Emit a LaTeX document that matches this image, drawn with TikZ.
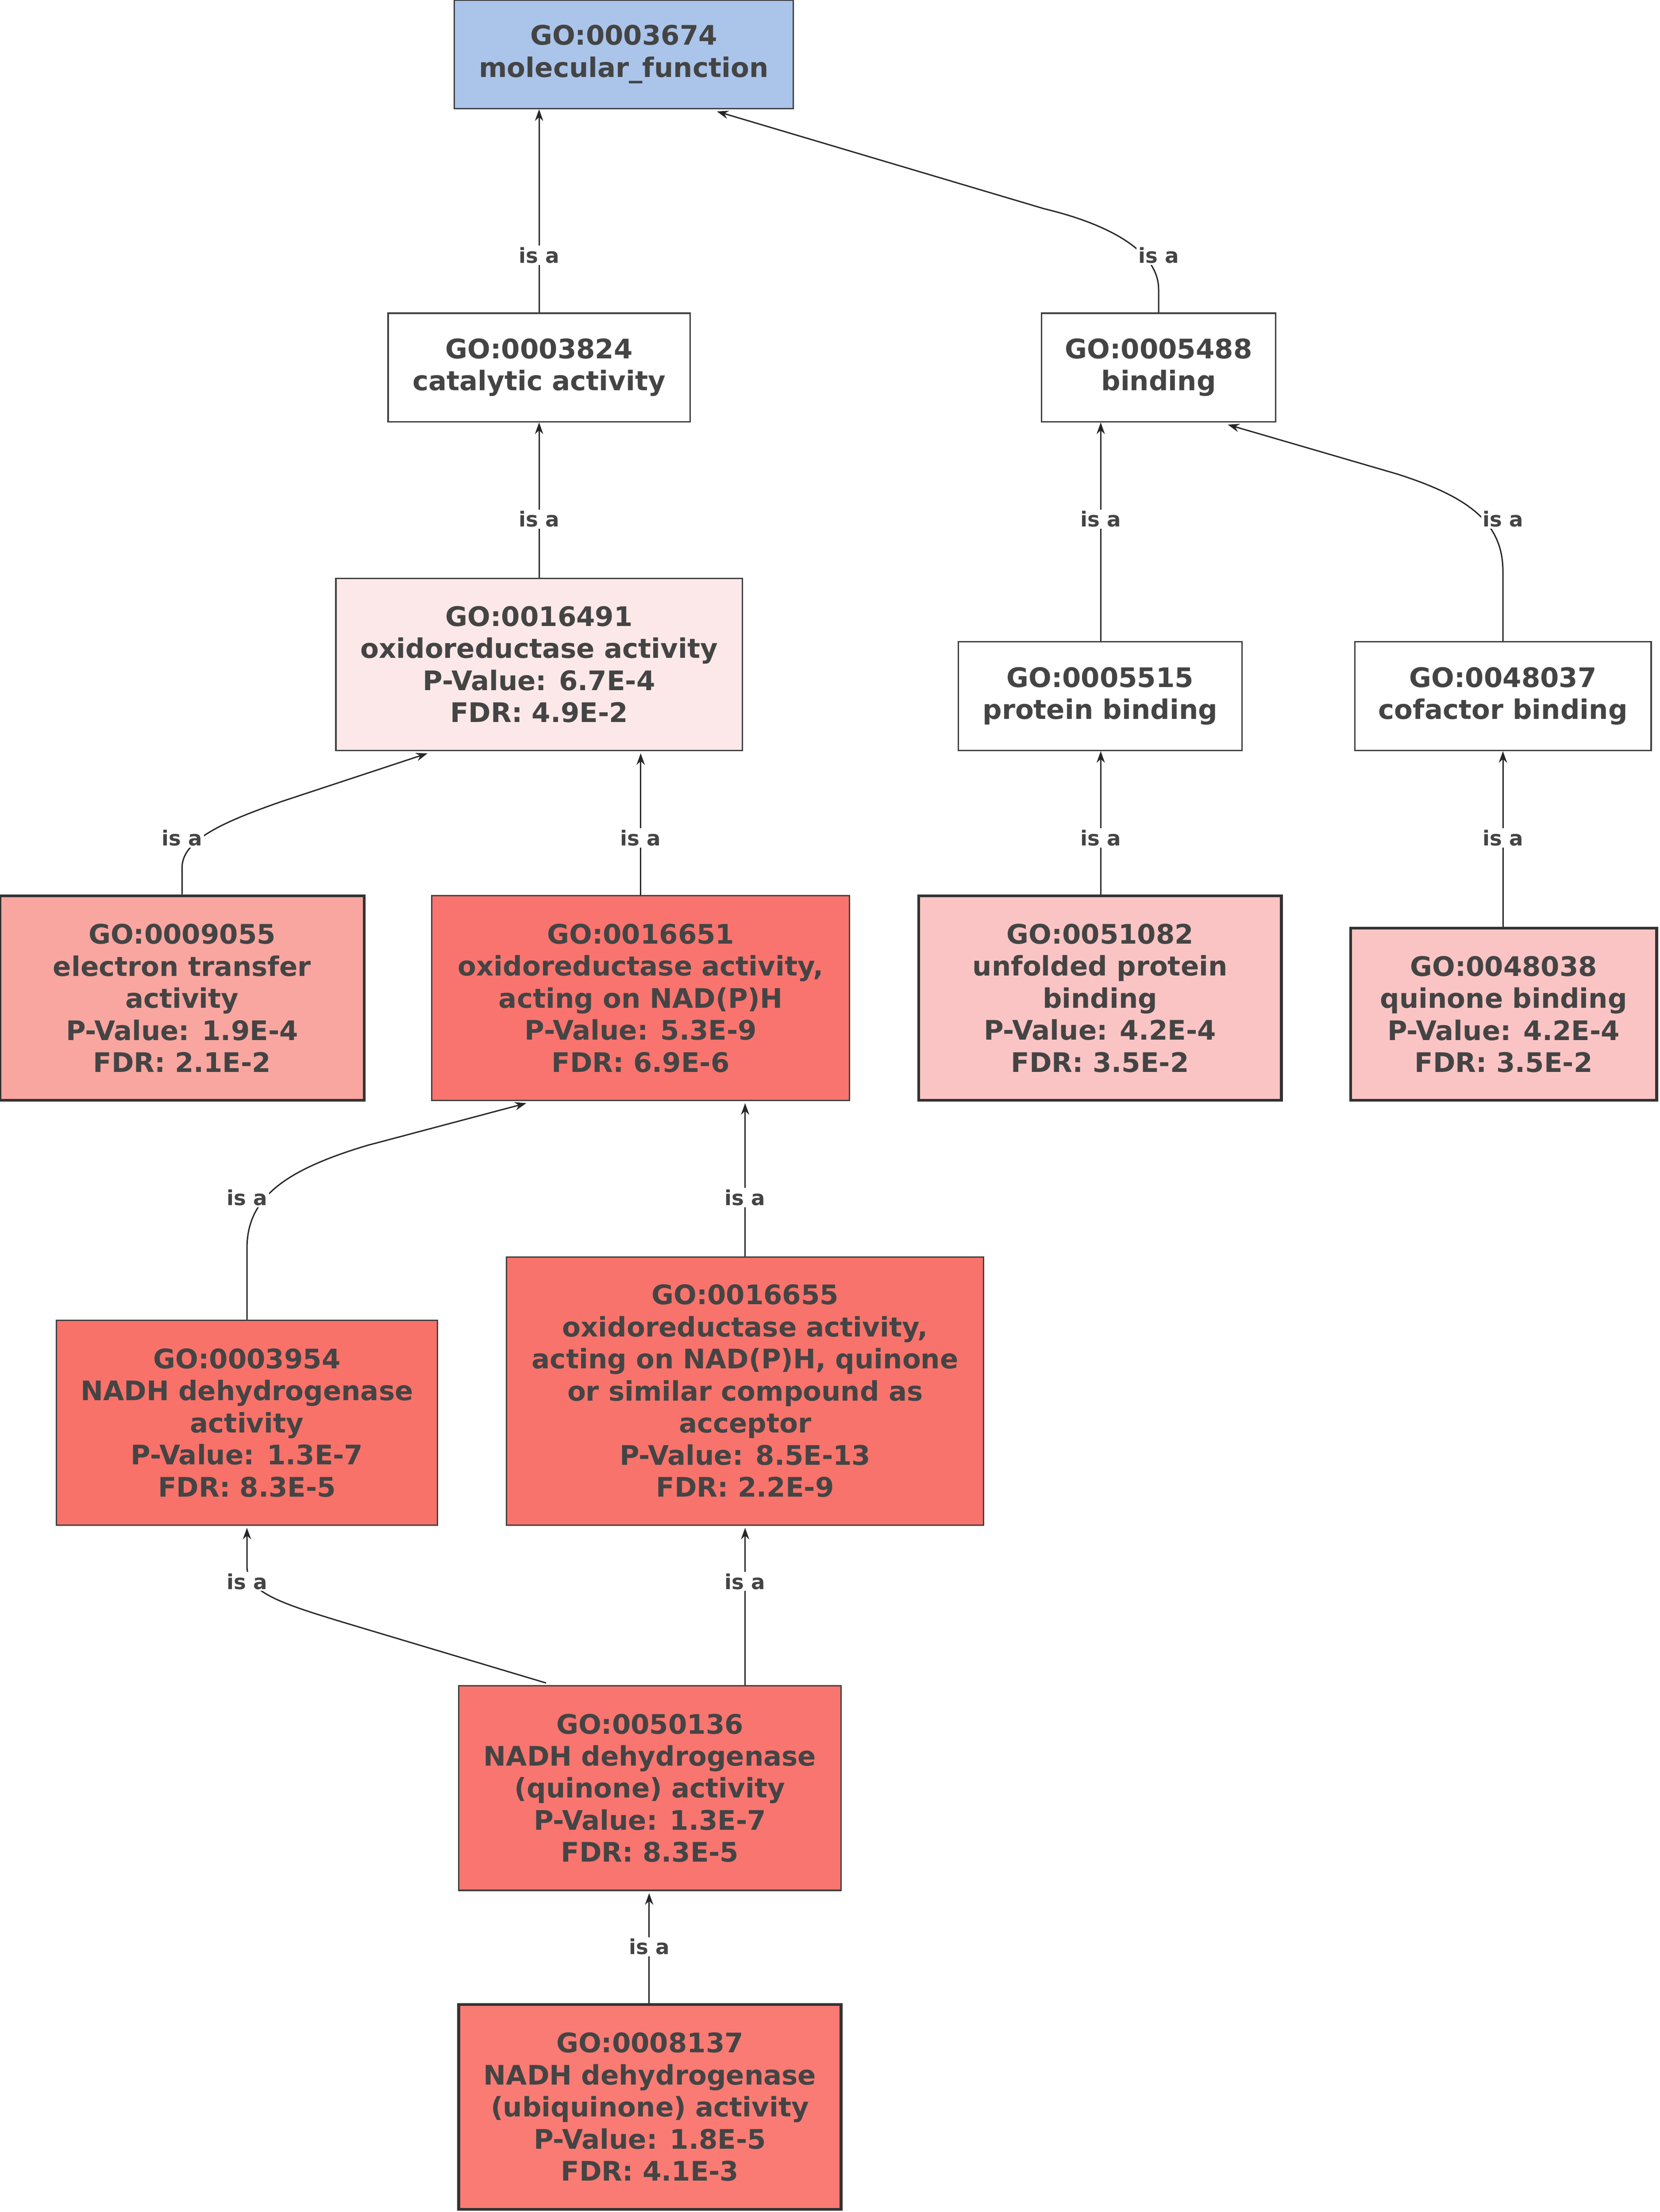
\documentclass[tikz,border=0pt]{standalone}
\usepackage{fontspec}
\setmainfont{DejaVu Sans}
\usetikzlibrary{arrows.meta}
\definecolor{txt}{HTML}{444444}
\tikzset{
 gobox/.style={draw=black!75,line width=0.85pt,inner sep=0pt,align=center,text=txt,
   font=\fontsize{16.3}{19.4}\selectfont\bfseries},
 sig/.style={line width=1.7pt,draw=black!80},
 edge/.style={-{Stealth[length=7pt,width=5pt]},line width=0.8pt,black!85},
 lab/.style={fill=white,inner sep=1pt,text=txt,font=\fontsize{12.5}{14}\selectfont\bfseries}
}
\newcommand{\gob}[7]{\node[gobox,#6,minimum width={(#4-#2)*0.03cm},minimum height={(#5-#3)*0.03cm}] (#1) at ({(#2+#4)/2},{(#3+#5)/2}) {#7};}
\begin{document}
\begin{tikzpicture}[x=0.03cm,y=-0.03cm]
\useasboundingbox[fill=white] (0,0) rectangle (1176,1568);
\gob{mf}{322}{0}{562}{77}{fill={rgb,255:red,170;green,196;blue,234}}{GO:0003674\\molecular\_function}
\gob{cat}{275}{222}{489}{299}{fill=white}{GO:0003824\\catalytic activity}
\gob{bind}{738}{222}{904}{299}{fill=white}{GO:0005488\\binding}
\gob{ox}{238}{410}{526}{532}{fill={rgb,255:red,252;green,232;blue,232}}{GO:0016491\\oxidoreductase activity\\P-Value: 6.7E-4\\FDR: 4.9E-2}
\gob{prot}{679}{455}{880}{532}{fill=white}{GO:0005515\\protein binding}
\gob{cof}{960}{455}{1170}{532}{fill=white}{GO:0048037\\cofactor binding}
\gob{et}{0}{635}{258}{780}{fill={rgb,255:red,249;green,166;blue,160},sig}{GO:0009055\\electron transfer\\activity\\P-Value: 1.9E-4\\FDR: 2.1E-2}
\gob{oxn}{306}{635}{602}{780}{fill={rgb,255:red,249;green,116;blue,110}}{GO:0016651\\oxidoreductase activity,\\acting on NAD(P)H\\P-Value: 5.3E-9\\FDR: 6.9E-6}
\gob{unf}{651}{635}{908}{780}{fill={rgb,255:red,251;green,196;blue,196},sig}{GO:0051082\\unfolded protein\\binding\\P-Value: 4.2E-4\\FDR: 3.5E-2}
\gob{quin}{957}{658}{1174}{780}{fill={rgb,255:red,251;green,196;blue,196},sig}{GO:0048038\\quinone binding\\P-Value: 4.2E-4\\FDR: 3.5E-2}
\gob{nadh}{40}{936}{310}{1081}{fill={rgb,255:red,248;green,114;blue,106}}{GO:0003954\\NADH dehydrogenase\\activity\\P-Value: 1.3E-7\\FDR: 8.3E-5}
\gob{oxq}{359}{891}{697}{1081}{fill={rgb,255:red,248;green,115;blue,107}}{GO:0016655\\oxidoreductase activity,\\acting on NAD(P)H, quinone\\or similar compound as\\acceptor\\P-Value: 8.5E-13\\FDR: 2.2E-9}
\gob{nq}{325}{1195}{596}{1340}{fill={rgb,255:red,249;green,117;blue,112}}{GO:0050136\\NADH dehydrogenase\\(quinone) activity\\P-Value: 1.3E-7\\FDR: 8.3E-5}
\gob{ubi}{325}{1421}{596}{1566}{fill={rgb,255:red,249;green,123;blue,116},sig}{GO:0008137\\NADH dehydrogenase\\(ubiquinone) activity\\P-Value: 1.8E-5\\FDR: 4.1E-3}
% edges
\draw[edge] (382,0 |- cat.north) -- (382,0 |- mf.south);
\node[lab] at (382,181) {is a};
\draw[edge] (bind.north) -- (821,205) .. controls (821,180) and (790,160) .. (740,148) -- (508,79);
\node[lab] at (821,181) {is a};
\draw[edge] (382,0 |- ox.north) -- (382,0 |- cat.south);
\node[lab] at (382,368) {is a};
\draw[edge] (780,0 |- prot.north) -- (780,0 |- bind.south);
\node[lab] at (780,368) {is a};
\draw[edge] (1065,0 |- cof.north) -- (1065,405) .. controls (1065,370) and (1040,352) .. (990,336) -- (870,301);
\node[lab] at (1065,368) {is a};
\draw[edge] (129,0 |- et.north) -- (129,615) .. controls (129,595) and (160,582) .. (200,568) -- (303,534);
\node[lab] at (129,594) {is a};
\draw[edge] (454,0 |- oxn.north) -- (454,534);
\node[lab] at (454,594) {is a};
\draw[edge] (780,0 |- unf.north) -- (780,0 |- prot.south);
\node[lab] at (780,594) {is a};
\draw[edge] (1065,0 |- quin.north) -- (1065,0 |- cof.south);
\node[lab] at (1065,594) {is a};
\draw[edge] (175,0 |- nadh.north) -- (175,885) .. controls (175,850) and (200,830) .. (260,812) -- (373,782);
\node[lab] at (175,849) {is a};
\draw[edge] (528,0 |- oxq.north) -- (528,782);
\node[lab] at (528,849) {is a};
\draw[edge] (387,1193) -- (260,1155) .. controls (200,1137) and (175,1130) .. (175,1110) -- (175,1083);
\node[lab] at (175,1121) {is a};
\draw[edge] (528,0 |- nq.north) -- (528,1083);
\node[lab] at (528,1121) {is a};
\draw[edge] (460,0 |- ubi.north) -- (460,1342);
\node[lab] at (460,1380) {is a};
\end{tikzpicture}
\end{document}
